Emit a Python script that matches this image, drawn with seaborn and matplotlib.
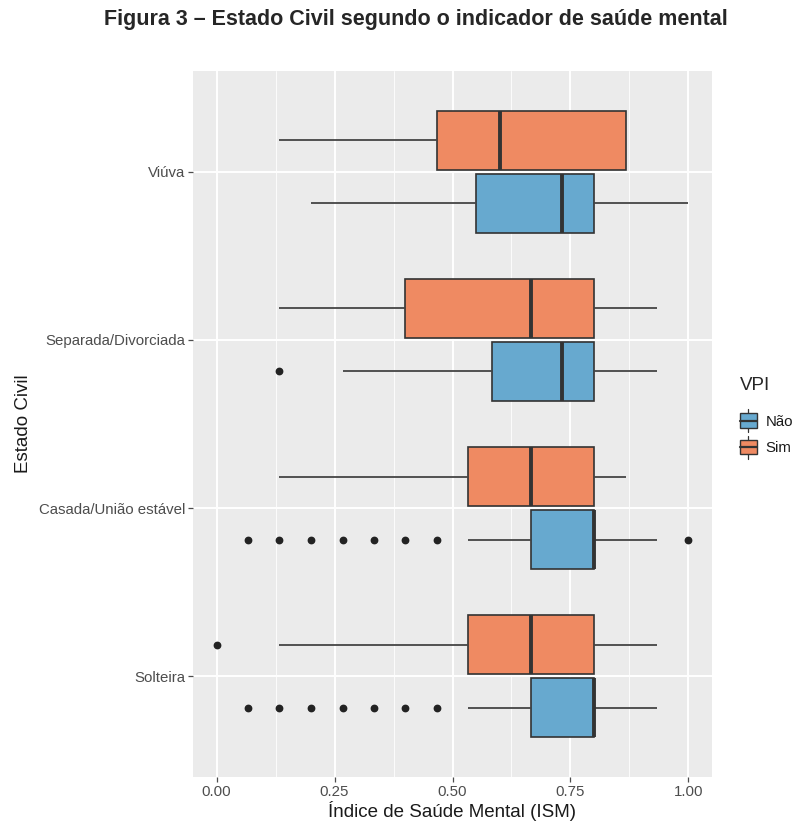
import numpy as np
import pandas as pd
import matplotlib
matplotlib.use("Agg")
import matplotlib.pyplot as plt
from matplotlib.legend_handler import HandlerBase
from matplotlib.patches import Rectangle, Patch
from matplotlib.lines import Line2D
import seaborn as sns

# ---- summary values of the Mental Health Index (ISM) per group ----
categories = ["Viúva", "Separada/Divorciada", "Casada/União estável", "Solteira"]
vpi_levels = ["Sim", "Não"]

# VPI = Sim
sim_whisker_lo = [0.133, 0.133, 0.133, 0.133]
sim_q1 = [0.467, 0.400, 0.533, 0.533]
sim_median = [0.600, 0.667, 0.667, 0.667]
sim_q3 = [0.867, 0.800, 0.800, 0.800]
sim_whisker_hi = [0.867, 0.933, 0.867, 0.933]
sim_outliers = [[], [], [], [0.0]]

# VPI = Não
nao_whisker_lo = [0.200, 0.267, 0.533, 0.533]
nao_q1 = [0.550, 0.583, 0.667, 0.667]
nao_median = [0.733, 0.733, 0.800, 0.800]
nao_q3 = [0.800, 0.800, 0.800, 0.800]
nao_whisker_hi = [1.000, 0.933, 0.933, 0.933]
nao_outliers = [
    [],
    [0.133],
    [0.067, 0.133, 0.200, 0.267, 0.333, 0.400, 0.467, 1.000],
    [0.067, 0.133, 0.200, 0.267, 0.333, 0.400, 0.467],
]

x_ticks = [0.0, 0.25, 0.5, 0.75, 1.0]
x_ticklabels = ["0.00", "0.25", "0.50", "0.75", "1.00"]

colors = {"Sim": "#ef8a62", "Não": "#67a9cf"}

# ---- long-form table: each summary value weighted so quartiles land on it ----
rows = []
summaries = {
    "Sim": (sim_whisker_lo, sim_q1, sim_median, sim_q3, sim_whisker_hi, sim_outliers),
    "Não": (nao_whisker_lo, nao_q1, nao_median, nao_q3, nao_whisker_hi, nao_outliers),
}
WEIGHT = 20
for vpi, (lo, q1, med, q3, hi, outs) in summaries.items():
    for i, cat in enumerate(categories):
        vals = list(outs[i]) + [lo[i], hi[i]] + [q1[i]] * WEIGHT + [med[i]] * WEIGHT + [q3[i]] * WEIGHT
        rows += [(cat, vpi, v) for v in vals]
df = pd.DataFrame(rows, columns=["Estado Civil", "VPI", "ISM"])

# ---- figure ----
sns.set_theme(style="darkgrid")
plt.rcParams["font.family"] = ["Liberation Sans", "DejaVu Sans"]

W, H = 808, 827
fig = plt.figure(figsize=(W / 100, H / 100), dpi=100)
ax = fig.add_axes([193 / W, 1 - 777 / H, (712 - 193) / W, (777 - 71) / H])
ax.set_facecolor("#ebebeb")

line_col = "#333333"
sns.boxplot(
    data=df, x="ISM", y="Estado Civil", hue="VPI",
    order=categories, hue_order=vpi_levels, palette=colors,
    orient="h", width=0.75, gap=0.06, saturation=1,
    linecolor=line_col, linewidth=1.2, fliersize=4.6,
    showcaps=False, legend=False,
    medianprops={"linewidth": 2.8, "color": line_col},
    whiskerprops={"color": "#444444", "linewidth": 1.3},
    flierprops={"marker": "o", "markerfacecolor": "#222222",
                "markeredgecolor": "#222222"},
    ax=ax,
)

# grid in ggplot style
ax.set_xlim(-0.05, 1.05)
ax.set_ylim(len(categories) - 0.4, -0.6)
ax.set_xticks(x_ticks)
ax.set_xticklabels(x_ticklabels)
ax.set_xticks([0.125, 0.375, 0.625, 0.875], minor=True)
ax.grid(False)
ax.set_axisbelow(True)
for xv in x_ticks:
    ax.axvline(xv, color="white", lw=1.4, zorder=0)
for xv in [0.125, 0.375, 0.625, 0.875]:
    ax.axvline(xv, color="white", lw=0.6, zorder=0)
for yv in range(len(categories)):
    ax.axhline(yv, color="white", lw=1.4, zorder=0)
for s in ax.spines.values():
    s.set_visible(False)

ax.tick_params(axis="both", which="major", bottom=True, left=True,
               length=3.5, width=0.9, color="#4d4d4d",
               labelcolor="#4d4d4d", labelsize=10.8, pad=2)
ax.tick_params(axis="x", which="minor", length=0)
ax.set_xlabel("Índice de Saúde Mental (ISM)", fontsize=13.5, color="#1a1a1a", labelpad=2)
ax.set_ylabel("Estado Civil", fontsize=13.5, color="#1a1a1a", labelpad=5)


# legend with small boxplot glyphs
class BoxKey(HandlerBase):
    def create_artists(self, legend, orig_handle, xdescent, ydescent,
                       width, height, fontsize, trans):
        x0, y0 = -xdescent, -ydescent
        cx = x0 + width / 2
        whisk = Line2D([cx, cx], [y0 - height * 0.3, y0 + height * 1.3],
                       color=line_col, lw=0.9, transform=trans)
        box = Rectangle((x0, y0), width, height, facecolor=orig_handle.get_facecolor(),
                        edgecolor=line_col, lw=1.0, transform=trans)
        med = Line2D([x0, x0 + width], [y0 + height / 2] * 2,
                     color=line_col, lw=1.6, transform=trans)
        return [whisk, box, med]


handles = [Patch(facecolor=colors["Não"]), Patch(facecolor=colors["Sim"])]
leg = fig.legend(handles, ["Não", "Sim"], title="VPI",
                 handler_map={Patch: BoxKey()},
                 loc="upper left", bbox_to_anchor=(740 / W, 1 - 377 / H),
                 frameon=False, fontsize=10.8, title_fontsize=13.5,
                 handlelength=1.1, handleheight=1.1, handletextpad=0.6,
                 labelspacing=0.75, borderaxespad=0, borderpad=0)
leg._legend_box.align = "left"
leg._legend_box.sep = 14
for t in leg.get_texts():
    t.set_color("#1a1a1a")

fig.text(416 / W, 1 - 20 / H,
         "Figura 3 – Estado Civil segundo o indicador de saúde mental",
         ha="center", va="center", fontsize=15.5, fontweight="bold",
         fontstretch="condensed",
         family=["Liberation Sans Narrow", "Liberation Sans", "DejaVu Sans"])

fig.savefig("out.png", dpi=100, facecolor="white")
